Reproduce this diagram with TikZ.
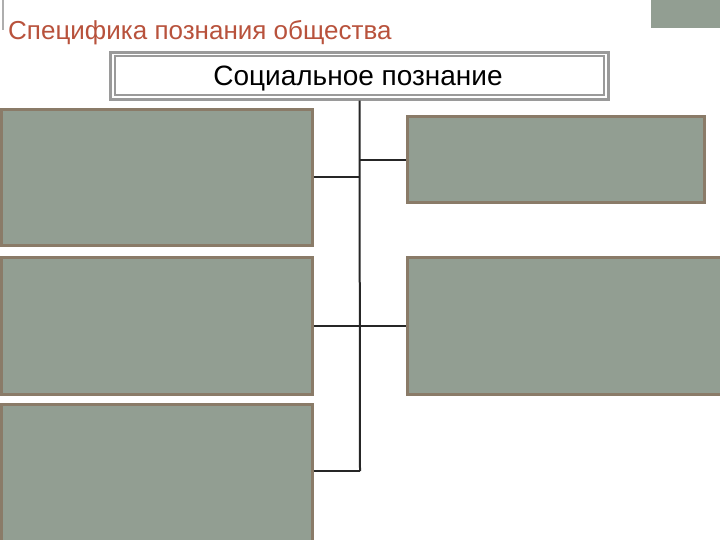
\documentclass[tikz,border=0pt]{standalone}
\usepackage{fontspec}
\setmainfont{Liberation Sans}
\definecolor{boxfill}{HTML}{929E92}
\definecolor{boxedge}{HTML}{8A7B68}
\definecolor{titlered}{HTML}{B8523C}
\definecolor{framegray}{HTML}{9A9A9A}
\begin{document}
\begin{tikzpicture}[x=1pt,y=-1pt,
  greybox/.style={draw=boxedge,line width=3pt,fill=boxfill,minimum width=0pt,inner sep=0pt},
  link/.style={draw=black!85,line width=2pt}]
\useasboundingbox (0,0) rectangle (720,540);
% decorative top elements
\fill[framegray!80] (2,0) rectangle (4,30);
\fill[boxfill] (651,0) rectangle (720,28);
\node[anchor=base west,text=titlered,font=\fontsize{26}{28}\selectfont,inner sep=0pt] (title) at (8,40) {Специфика познания общества};
% header box with double frame
\node[draw=framegray,line width=2.5pt,minimum width=498pt,minimum height=47pt,inner sep=0pt] (head) at (359.5,76) {};
\draw[framegray,line width=1.5pt] (115,56) rectangle (604,95);
\node[font=\fontsize{28}{30}\selectfont,inner sep=0pt] (headtext) at (358,78.5) {Социальное познание};
% boxes
\node[greybox,minimum width=311pt,minimum height=135pt] (b1) at (156.5,177.5) {};
\node[greybox,minimum width=311pt,minimum height=137pt] (b2) at (156.5,326) {};
\node[greybox,minimum width=311pt,minimum height=138pt] (b3) at (156.5,473) {};
\node[greybox,minimum width=297pt,minimum height=86pt] (b4) at (555.5,160) {};
\node[greybox,minimum width=320pt,minimum height=137pt] (b5) at (567,326) {};
% connectors
\coordinate (trunkend) at (360,471);
\draw[link] (head.south) -- (trunkend);
\draw[link] (b1.east) -- (b1.east -| trunkend);
\draw[link] (b4.west) -- (b4.west -| trunkend);
\draw[link] (b2.east) -- (b5.west);
\draw[link] (b3.east |- trunkend) -- (trunkend);
\end{tikzpicture}
\end{document}
